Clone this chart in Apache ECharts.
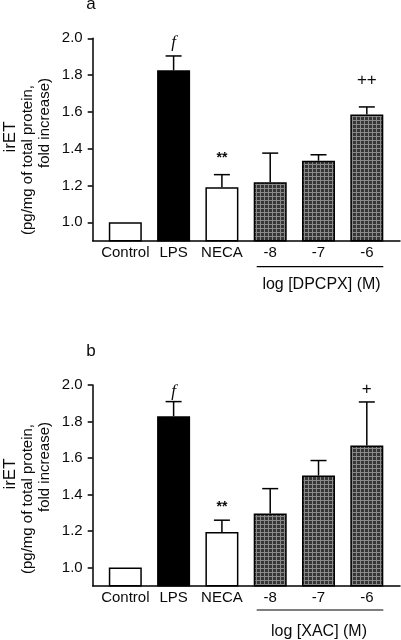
<!DOCTYPE html>
<html><head><meta charset="utf-8">
<script src="https://cdn.jsdelivr.net/npm/echarts@6/dist/echarts.min.js"></script>
<style>html,body{margin:0;padding:0;background:#fff}#c{width:401px;height:640px}</style>
</head><body><div id="c"></div>
<script>
var categories = ['Control', 'LPS', 'NECA', '-8', '-7', '-6'];
var yTicks = [1.0, 1.2, 1.4, 1.6, 1.8, 2.0];
// panel a (DPCPX)
var meanA = [1.0, 1.826, 1.19, 1.217, 1.335, 1.586];
var upperA = [null, 1.904, 1.259, 1.376, 1.367, 1.627];
var signA = ['', 'f', '**', '', '', '++'];
var signYA = [null, 1.975, 1.351, null, null, 1.774];
// panel b (XAC)
var meanB = [1.0, 1.829, 1.194, 1.296, 1.504, 1.668];
var upperB = [null, 1.909, 1.259, 1.432, 1.586, 1.907];
var signB = ['', 'f', '**', '', '', '+'];
var signYB = [null, 1.963, 1.328, null, null, 1.978];

var FONT = '"Liberation Sans", Arial, sans-serif';
var ink = '#0a0a0a';

var pc = document.createElement('canvas');
pc.width = 4; pc.height = 4;
var g = pc.getContext('2d');
g.fillStyle = '#363636'; g.fillRect(0, 0, 4, 4);
g.fillStyle = '#8a8a8a'; g.fillRect(0, 0, 4, 1); g.fillRect(0, 0, 1, 4);
var pattern = {image: pc, repeat: 'repeat'};

var fills = ['#fff', '#000', '#fff', pattern, pattern, pattern];

function barData(means) {
  return means.map(function (v, i) {
    return {value: [i, v], itemStyle: {color: fills[i], borderColor: '#000', borderWidth: 1.5}};
  });
}
function errData(means, uppers) {
  var out = [];
  means.forEach(function (v, i) { if (uppers[i] != null) out.push([i, v, uppers[i]]); });
  return out;
}
function signData(signs, ys) {
  var out = [];
  signs.forEach(function (s, i) { if (s) out.push([i, ys[i], s]); });
  return out;
}
function errRender(params, api) {
  var p0 = api.coord([api.value(0), api.value(1)]);
  var p1 = api.coord([api.value(0), api.value(2)]);
  var hw = 8;
  return {type: 'group', children: [
    {type: 'line', shape: {x1: p0[0], y1: p0[1], x2: p1[0], y2: p1[1]}, style: {stroke: '#000', lineWidth: 1.5}},
    {type: 'line', shape: {x1: p1[0] - hw, y1: p1[1], x2: p1[0] + hw, y2: p1[1]}, style: {stroke: '#000', lineWidth: 1.5}}
  ]};
}
function signRender(params, api) {
  var p = api.coord([api.value(0), api.value(1)]);
  var txt = api.value(2);
  var isF = txt === 'f';
  return {type: 'text', x: p[0], y: p[1], style: {
    text: txt, align: 'center', verticalAlign: 'middle', fill: ink,
    font: isF ? 'italic 17px "Liberation Serif", "DejaVu Serif", serif' : (txt === '**' ? 'bold 14px ' + FONT : '17px ' + FONT)
  }};
}

function xAxis(gi) {
  return {
    type: 'value', gridIndex: gi, min: -0.675, max: 5.687,
    axisLine: {show: true, onZero: false, lineStyle: {color: '#000', width: 1.5}},
    axisTick: {show: false}, splitLine: {show: false},
    axisLabel: {customValues: [0, 1, 2, 3, 4, 5], formatter: function (v) { return categories[Math.round(v)]; },
      color: ink, fontFamily: FONT, fontSize: 15, margin: 5}
  };
}
function yAxis(gi) {
  return {
    type: 'value', gridIndex: gi, min: 0.9, max: 2.0,
    axisLine: {show: true, onZero: false, lineStyle: {color: '#000', width: 1.5}},
    axisTick: {show: true, customValues: yTicks, length: 5, lineStyle: {color: '#000', width: 1.5}},
    splitLine: {show: false},
    axisLabel: {customValues: yTicks, formatter: function (v) { return v.toFixed(1); },
      color: ink, fontFamily: FONT, fontSize: 15, margin: 10}
  };
}

var series = [];
[[meanA, upperA, signA, signYA], [meanB, upperB, signB, signYB]].forEach(function (d, gi) {
  series.push({type: 'bar', xAxisIndex: gi, yAxisIndex: gi, barWidth: 33, data: barData(d[0]), clip: true, z: 2});
  series.push({type: 'custom', xAxisIndex: gi, yAxisIndex: gi, renderItem: errRender, data: errData(d[0], d[1]), z: 3, clip: false});
  series.push({type: 'custom', xAxisIndex: gi, yAxisIndex: gi, renderItem: signRender, data: signData(d[2], d[3]), z: 3, clip: false});
});

function vtext(x, y, t, size) {
  return {type: 'text', x: x, y: y, rotation: Math.PI / 2,
    style: {text: t, align: 'center', verticalAlign: 'middle', fill: ink, font: size + 'px ' + FONT}};
}
var graphics = [
  {type: 'text', x: 91, y: 4, style: {text: 'a', align: 'center', verticalAlign: 'middle', fill: ink, font: '17px ' + FONT}},
  {type: 'text', x: 91, y: 351, style: {text: 'b', align: 'center', verticalAlign: 'middle', fill: ink, font: '17px ' + FONT}},
  vtext(10, 137, 'irET', 17), vtext(28, 160, '(pg/mg of total protein,', 15), vtext(45, 123, 'fold increase)', 15),
  vtext(10, 474, 'irET', 17), vtext(28, 499, '(pg/mg of total protein,', 15), vtext(45, 467, 'fold increase)', 15),
  {type: 'line', shape: {x1: 256.7, y1: 266.7, x2: 383.3, y2: 266.7}, style: {stroke: '#000', lineWidth: 1.2}},
  {type: 'text', x: 321.5, y: 285, style: {text: 'log [DPCPX] (M)', align: 'center', verticalAlign: 'middle', fill: ink, font: '16px ' + FONT}},
  {type: 'line', shape: {x1: 256.7, y1: 610, x2: 383.3, y2: 610}, style: {stroke: '#000', lineWidth: 1.2}},
  {type: 'text', x: 319, y: 631.5, style: {text: 'log [XAC] (M)', align: 'center', verticalAlign: 'middle', fill: ink, font: '16px ' + FONT}}
];

var chart = echarts.init(document.getElementById('c'), null, {renderer: 'canvas'});
chart.setOption({
  animation: false,
  backgroundColor: '#fff',
  grid: [
    {left: 92.7, right: 1, top: 38.3, height: 202.4},
    {left: 92.7, right: 1, top: 385, height: 200.7}
  ],
  xAxis: [xAxis(0), xAxis(1)],
  yAxis: [yAxis(0), yAxis(1)],
  series: series,
  graphic: graphics
});
</script></body></html>
